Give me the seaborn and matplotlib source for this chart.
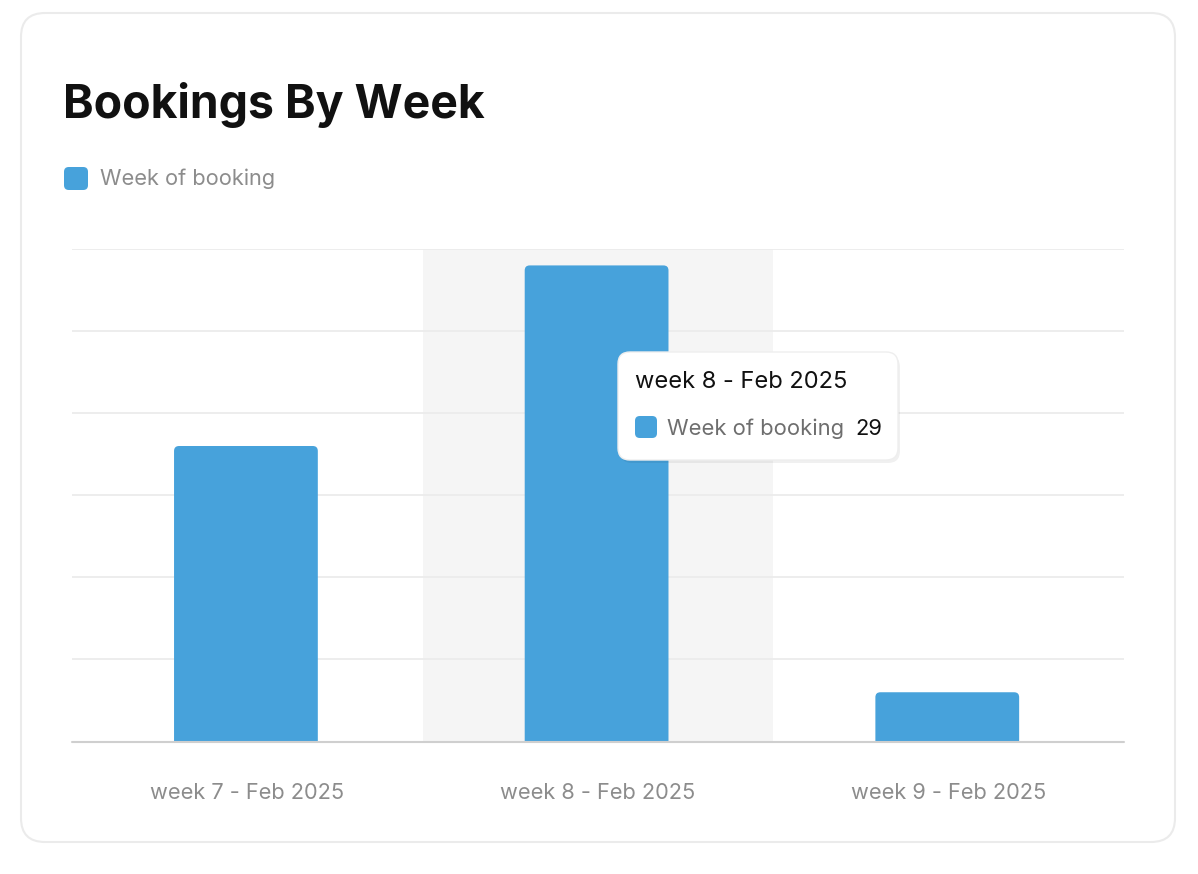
import matplotlib.pyplot as plt
import numpy as np
import pandas as pd
import seaborn as sns
from matplotlib.patches import FancyBboxPatch

# chart data
weeks = ["week 7 - Feb 2025", "week 8 - Feb 2025", "week 9 - Feb 2025"]
bookings = [18, 29, 3]
series_name = "Week of booking"
hover_idx = 1

bar_color = "#47a2db"
grid_color = "#ececec"

sns.set_theme(style="white")
plt.rcParams["font.family"] = ["Inter", "DejaVu Sans"]

W, H = 1198, 874
fig = plt.figure(figsize=(W / 100, H / 100), dpi=100)
fig.patch.set_facecolor("white")

# card outline (behind the axes)
card = FancyBboxPatch((21 / W, 1 - 842 / H), (1175 - 21) / W, (842 - 13) / H,
                      boxstyle="round,pad=0,rounding_size=0.02",
                      transform=fig.transFigure, facecolor="white",
                      edgecolor="#ebebeb", linewidth=1.5, mutation_aspect=W / H,
                      zorder=-5)
fig.patches.append(card)

ax = fig.add_axes([72 / W, 1 - 741.5 / H, (1124 - 72) / W, (741.5 - 249) / H])
ax.set_facecolor("none")

df = pd.DataFrame({"week": weeks, "bookings": bookings})
sns.barplot(data=df, x="week", y="bookings", color=bar_color, width=0.41,
            saturation=1, ax=ax, zorder=3)

# swap the plain bars for ones with rounded corners
px_x = (1124 - 72) / 3
px_y = (741.5 - 249) / 30
r = 5 / px_x
for p in list(ax.patches):
    x0, w, h = p.get_x(), p.get_width(), p.get_height()
    p.remove()
    rb = FancyBboxPatch((x0 - 0.004, -1), w, h + 1,
                        boxstyle=f"round,pad=0,rounding_size={r}",
                        mutation_aspect=px_x / px_y,
                        facecolor=bar_color, edgecolor="none", zorder=3)
    ax.add_patch(rb)

ax.set_xlim(-0.5, 2.5)
ax.set_ylim(0, 30)
ax.axvspan(hover_idx - 0.5, hover_idx + 0.5, color="#f5f5f5", zorder=0, lw=0)
for yv in range(5, 31, 5):
    ax.axhline(yv, color=grid_color, lw=1.3, zorder=1)
ax.axhline(0, color="#cfcfcf", lw=1.5, zorder=4, clip_on=False)

sns.despine(ax=ax, left=True, bottom=True, top=True, right=True)
ax.set_yticks([])
ax.set_xlabel("")
ax.set_ylabel("")
ax.tick_params(axis="x", length=0, pad=30, labelsize=15.7, labelcolor="#8c8c8c")

# title + legend
fig.text(63 / W, 1 - 118 / H, "Bookings By Week", fontsize=33.4, fontweight="bold",
         color="#111111", va="baseline", ha="left")
leg_sq = FancyBboxPatch((64 / W, 1 - 190 / H), 24 / W, 23 / H,
                        boxstyle="round,pad=0,rounding_size=0.004",
                        mutation_aspect=W / H, transform=fig.transFigure,
                        facecolor=bar_color, edgecolor="none")
fig.patches.append(leg_sq)
fig.text(100 / W, 1 - 179 / H, series_name, fontsize=15.7, color="#8c8c8c",
         va="center", ha="left")

# tooltip over the hovered bar
shadow = FancyBboxPatch((620 / W, 1 - 463 / H), 280 / W, 108 / H,
                        boxstyle="round,pad=0,rounding_size=0.01",
                        mutation_aspect=W / H, transform=fig.transFigure,
                        facecolor="#000000", alpha=0.06, edgecolor="none", zorder=5)
fig.patches.append(shadow)
tip = FancyBboxPatch((618 / W, 1 - 460 / H), 280 / W, 108 / H,
                     boxstyle="round,pad=0,rounding_size=0.01",
                     mutation_aspect=W / H, transform=fig.transFigure,
                     facecolor="white", edgecolor="#eeeeee", lw=1, zorder=6)
fig.patches.append(tip)
fig.text(635 / W, 1 - 382 / H, weeks[hover_idx], fontsize=17, color="#111111",
         va="center", ha="left", zorder=7)
tip_sq = FancyBboxPatch((635 / W, 1 - 438 / H), 22 / W, 22 / H,
                        boxstyle="round,pad=0,rounding_size=0.004",
                        mutation_aspect=W / H, transform=fig.transFigure,
                        facecolor=bar_color, edgecolor="none", zorder=7)
fig.patches.append(tip_sq)
fig.text(667 / W, 1 - 429 / H, series_name, fontsize=15.8, color="#6e6e6e",
         va="center", ha="left", zorder=7)
fig.text(855 / W, 1 - 429 / H, str(bookings[hover_idx]), fontsize=15.8, color="#111111",
         va="center", ha="left", zorder=7)

fig.savefig("out.png", dpi=100, facecolor="white")
